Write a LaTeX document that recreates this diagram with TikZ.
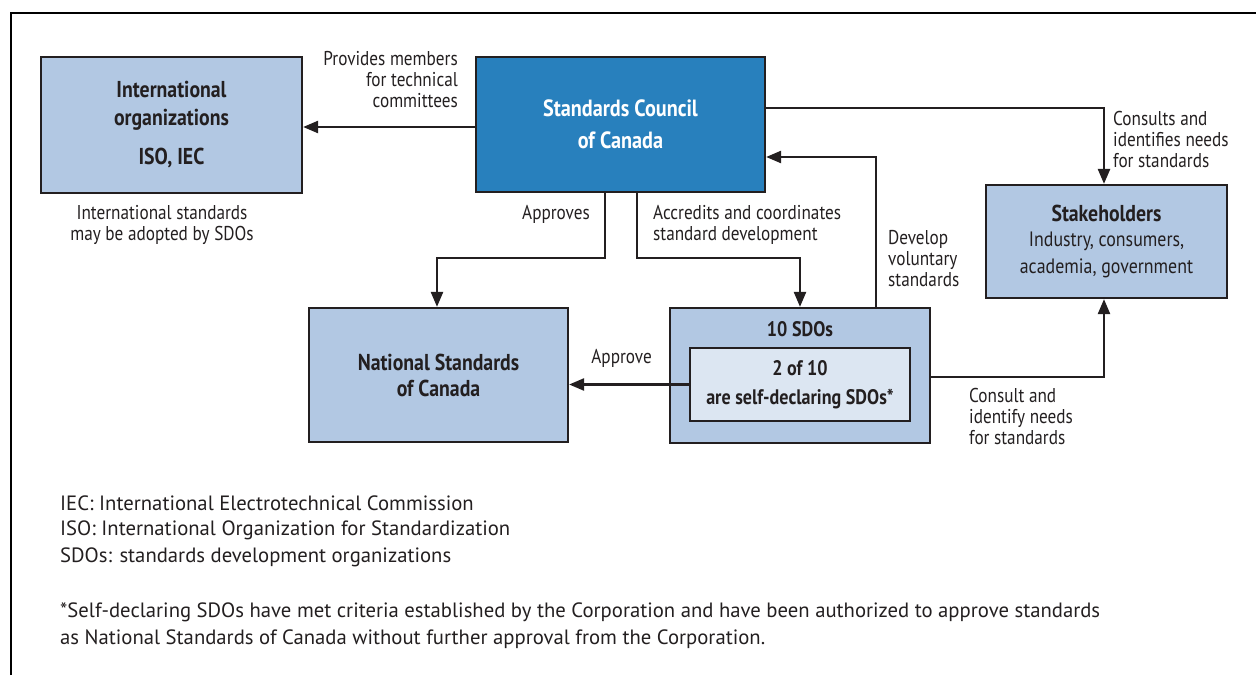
\documentclass[tikz,border=0pt]{standalone}
\usepackage{fontspec}
\setmainfont{PT Sans}
\newfontfamily\cond[FakeStretch=0.86]{PT Sans}
\usetikzlibrary{arrows.meta}
\definecolor{lightbox}{HTML}{B2C8E3}
\definecolor{sccblue}{HTML}{2880BD}
\definecolor{innerbox}{HTML}{DCE6F2}
\definecolor{edge}{HTML}{231F20}
\newcommand\ttlf[2]{\cond\bfseries\fontsize{#1}{#2}\selectfont}
\newcommand\regf[2]{\cond\mdseries\fontsize{#1}{#2}\selectfont}
\tikzset{
  box/.style={draw=edge, line width=2.2pt, fill=lightbox, inner sep=0pt, align=center, text=edge},
  arr/.style={draw=edge, line width=2.4pt, -{Triangle[length=15pt,width=12pt]}},
  lbl/.style={inner sep=0pt, text=edge, font=\regf{20}{21}},
  note/.style={inner sep=0pt, anchor=west, text=edge, font=\fontsize{20.7}{21}\selectfont}
}
\begin{document}
\begin{tikzpicture}[x=1pt,y=-1pt]
\useasboundingbox (0,0) rectangle (1256,675);
\draw[line width=2.2pt] (11,675) -- (11,13) -- (1256,13);

\node[box, minimum width=261, minimum height=136, font=\ttlf{23}{28}] (intl) at (171.5,125)
  {International\\ organizations\\[11pt] ISO, IEC};
\node[box, fill=sccblue, minimum width=289, minimum height=135, text=white, font=\ttlf{23.5}{32}] (scc) at (620.5,124.5)
  {Standards Council\\ of Canada};
\node[box, minimum width=241, minimum height=113, font=\ttlf{23}{27}] (stake) at (1106.5,241.5)
  {Stakeholders\\[-2pt] \regf{20.8}{25}Industry, consumers,\\ \regf{20.8}{25}academia, government};
\node[box, minimum width=259, minimum height=134, font=\ttlf{23}{26}] (nsc) at (438.5,375)
  {National Standards\\ of Canada};
\node[box, minimum width=260, minimum height=135] (sdo) at (800,375.5) {};
\node[inner sep=0pt, text=edge, font=\ttlf{21}{28}] (sdot) at (800,329) {10 SDOs};
\node[box, fill=innerbox, minimum width=220, minimum height=73, font=\ttlf{21}{29}] (inner) at (800,384.5)
  {2 of 10\\ are self-declaring SDOs*};

% connectors
\coordinate (j0) at (0,127);
\draw[arr] (scc.west |- j0) -- (intl.east |- j0);
\coordinate (j1) at (605,258);
\coordinate (j2) at (437,258);
\draw[arr] (scc.south -| j1) -- (j1) -- (j2) -- (nsc.north -| j2);
\coordinate (j3) at (637,258);
\coordinate (j4) at (800,258);
\draw[arr] (scc.south -| j3) -- (j3) -- (j4) -- (sdo.north -| j4);
\coordinate (j5) at (876,157);
\draw[arr] (sdo.north -| j5) -- (j5) -- (j5 -| scc.east);
\coordinate (j6) at (1104,108);
\draw[arr] (scc.east |- j6) -- (j6) -- (stake.north -| j6);
\coordinate (j7) at (1104,377);
\draw[arr] (sdo.east |- j7) -- (j7) -- (stake.south -| j7);
\draw[arr] (inner.west) -- (inner.west -| nsc.east);

% labels
\node[lbl, align=right, anchor=north east] (l1) at (458,51) {Provides members\\ for technical\\ committees};
\node[lbl, align=center, anchor=north] (l2) at (162,205) {International standards\\ may be adopted by SDOs};
\node[lbl, anchor=north east] (l3) at (590,205) {Approves};
\node[lbl, align=left, anchor=north west] (l4) at (653,205) {Accredits and coordinates\\ standard development};
\node[lbl, align=left, anchor=north west] (l5) at (888,230) {Develop\\ voluntary\\ standards};
\node[lbl, align=left, anchor=north west] (l6) at (1113,111) {Consults and\\ identifies needs\\ for standards};
\node[lbl, anchor=north east] (l7) at (652,349) {Approve};
\node[lbl, align=left, anchor=north west] (l8) at (969,388) {Consult and\\ identify needs\\ for standards};

% notes
\node[note] (n1) at (60,503) {IEC: International Electrotechnical Commission};
\node[note] (n2) at (60,530) {ISO: International Organization for Standardization};
\node[note] (n3) at (60,557) {SDOs: standards development organizations};
\node[note] (n4) at (60,612) {*Self-declaring SDOs have met criteria established by the Corporation and have been authorized to approve standards};
\node[note] (n5) at (60,639) {as National Standards of Canada without further approval from the Corporation.};
\end{tikzpicture}
\end{document}
